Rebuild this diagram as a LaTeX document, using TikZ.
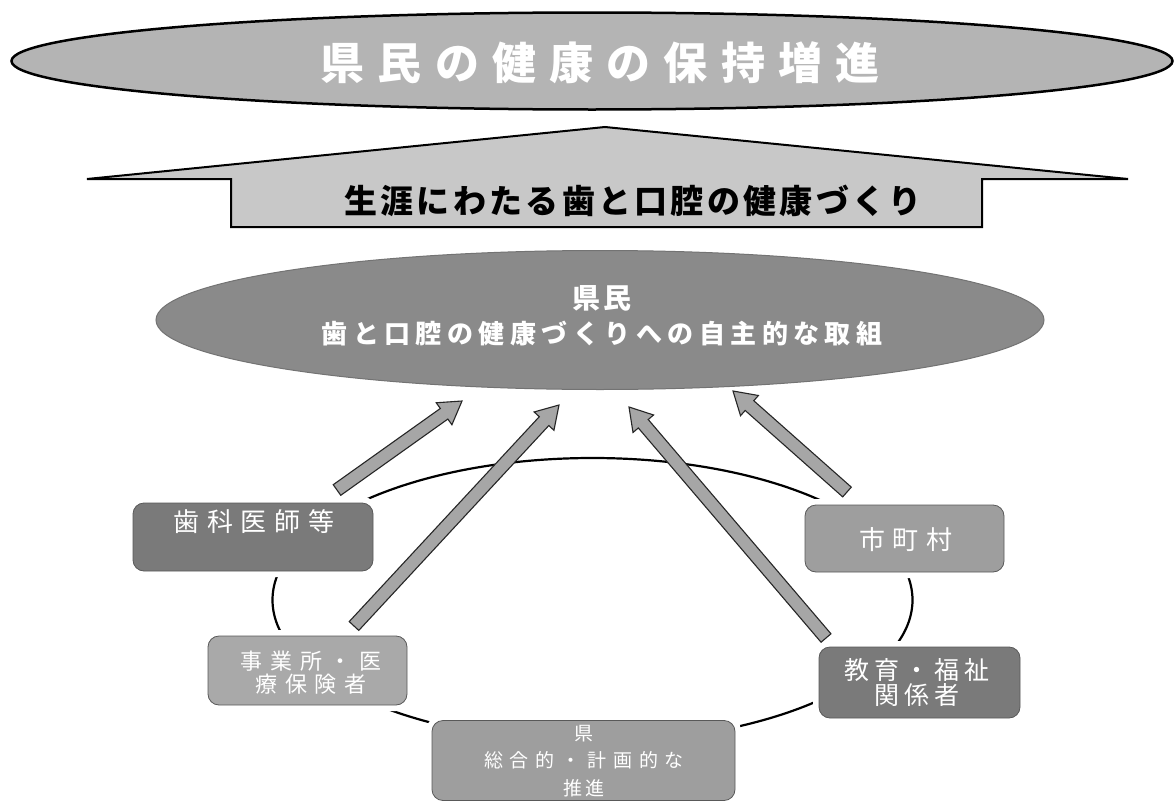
\documentclass[tikz,border=0pt]{standalone}
\usepackage{fontspec}
\newfontfamily\jp{Noto Sans CJK JP}
\usetikzlibrary{shapes.geometric,calc}
\definecolor{topgray}{HTML}{B4B4B4}
\definecolor{bangray}{HTML}{C8C8C8}
\definecolor{midgray}{HTML}{8A8A8A}
\definecolor{arrgray}{HTML}{A6A6A6}
\definecolor{boxdark}{HTML}{7A7A7A}
\definecolor{boxmid}{HTML}{9E9E9E}
\definecolor{boxlight}{HTML}{A9A9A9}
\newcommand\fsl[3]{\jp\fontsize{#1pt}{#2pt}\selectfont\addfontfeatures{LetterSpace=#3}}
\newcommand\fatarr[2]{%
  \coordinate (hb) at ($(#2)!22pt!(#1)$);
  \draw[arrowbody] ($(#1)!6.5pt!90:(#2)$) -- ($(hb)!6.5pt!-90:(#1)$) -- ($(hb)!13.5pt!-90:(#1)$) -- (#2)
     -- ($(hb)!13.5pt!90:(#1)$) -- ($(hb)!6.5pt!90:(#1)$) -- ($(#1)!6.5pt!-90:(#2)$) -- cycle;}
\tikzset{
  topell/.style={ellipse, fill=topgray, draw=black, line width=2.5pt, minimum width=1161pt, minimum height=97pt, inner sep=0pt},
  peopleell/.style={ellipse, fill=midgray, draw=black!55, line width=1pt, minimum width=888pt, minimum height=139pt, inner sep=0pt},
  bannershape/.style={fill=bangray, draw=black, line width=2pt, line join=miter},
  ringline/.style={draw=black, line width=2.2pt},
  boxbase/.style={rounded corners=11pt, draw=black!65, line width=0.8pt, inner sep=0pt,
    preaction={draw=white, line width=12pt}},
  arrowbody/.style={fill=arrgray, draw=black!85, line width=1.1pt, line join=miter},
  wtext/.style={text=white, inner sep=0pt, align=center},
}
\begin{document}
\begin{tikzpicture}[x=1pt,y=-1pt]
\fill[white] (0,0) rectangle (1176,803);
\useasboundingbox (0,0) rectangle (1176,803);

% goal ellipse
\node[topell] (goal) at (592,61) {};
\node[wtext, font=\fsl{44}{48}{30}\bfseries] (goaltext) at (600,63) {県民の健康の保持増進};

% banner arrow
\draw[bannershape] (87,179) -- (605,127) -- (1128,179) -- (982,179) -- (982,227) -- (231,227) -- (231,179) -- cycle;
\node[inner sep=0pt, font=\fsl{33}{38}{10}\bfseries] (bantext) at (633,201) {生涯にわたる歯と口腔の健康づくり};

% people ellipse
\node[peopleell] (people) at (600,320) {};
\node[wtext, font=\fsl{28}{32}{14}\bfseries] (peopleA) at (602,298) {県民};
\node[wtext, font=\fsl{26}{30}{21}\bfseries] (peopleB) at (602,334) {歯と口腔の健康づくりへの自主的な取組};

% ring
\draw[ringline] (592.5,600) ellipse [x radius=320pt, y radius=142pt];

% boxes
\node[boxbase, fill=boxdark, minimum width=240pt, minimum height=68pt] (shika) at (253,537) {};
\node[wtext, font=\fsl{26}{30}{29}] (shikat) at (254,522) {歯科医師等};

\node[boxbase, fill=boxmid, minimum width=199pt, minimum height=67pt] (shicho) at (904.5,538.5) {};
\node[wtext, font=\fsl{26}{30}{27}] (shichot) at (906,540) {市町村};

\node[boxbase, fill=boxlight, minimum width=199pt, minimum height=69pt] (jigyo) at (307.5,670.5) {};
\node[wtext, font=\fsl{22}{23}{36}] (jigyot) at (311,673) {事業所・医\\療保険者};

\node[boxbase, fill=boxdark, minimum width=201pt, minimum height=71pt] (kyoiku) at (919.5,682.5) {};
\node[wtext, font=\fsl{25}{25}{20}] (kyoikut) at (917,682) {教育・福祉\\関係者};

\node[boxbase, fill=boxmid, minimum width=303pt, minimum height=80pt] (ken) at (583.5,760.5) {};
\node[wtext, font=\fsl{19}{27.5}{15}] (kent) at (584,761) {県\\{\addfontfeatures{LetterSpace=36}総合的・計画的な}\\推進};

% arrows
\coordinate (a1t) at (337,490); \coordinate (a1h) at (462,401);
\coordinate (a2t) at (354,626); \coordinate (a2h) at (559,405);
\coordinate (a3t) at (826,638); \coordinate (a3h) at (629,407);
\coordinate (a4t) at (847,492); \coordinate (a4h) at (733,391);
\fatarr{a1t}{a1h}
\fatarr{a2t}{a2h}
\fatarr{a3t}{a3h}
\fatarr{a4t}{a4h}
\end{tikzpicture}
\end{document}
